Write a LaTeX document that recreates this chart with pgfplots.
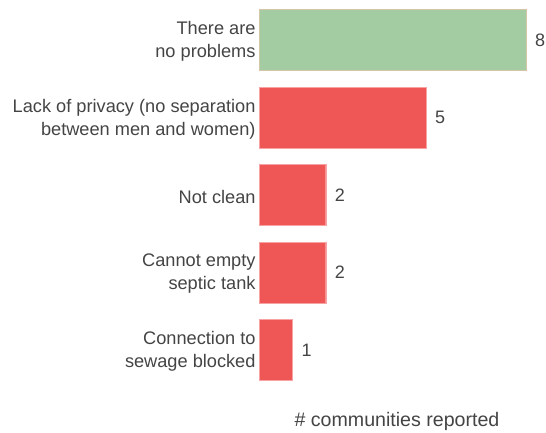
\documentclass[border=0pt]{standalone}
\usepackage{pgfplots}
\pgfplotsset{compat=1.18}
\usepackage{fontspec}
\setmainfont{Liberation Sans}
\definecolor{txt}{HTML}{444444}
\definecolor{gfill}{HTML}{A3CCA3}
\definecolor{gdraw}{HTML}{D6C6A8}
\definecolor{rfill}{HTML}{EF5656}
\definecolor{rdraw}{HTML}{F8A3A3}
\begin{document}
\begin{tikzpicture}[x=1pt,y=1pt]
\useasboundingbox (0,0) rectangle (546,433);
\begin{axis}[
  at={(259pt,44.25pt)}, anchor=south west,
  scale only axis, width=267pt, height=387.5pt,
  xmin=0, xmax=8, ymin=-0.5, ymax=4.5, y dir=reverse,
  axis line style={draw=none},
  xbar, bar width=61pt, bar shift=0pt,
  ytick={0,1,2,3,4},
  yticklabels={{There are\\no problems},{Lack of privacy (no separation\\between men and women)},{Not clean},{Cannot empty\\septic tank},{Connection to\\sewage blocked}},
  xtick=\empty,
  tick style={draw=none},
  yticklabel style={align=right, font=\fontsize{18.2}{23}\selectfont, text=txt, inner sep=0pt, xshift=1pt, yshift=-1.5pt},
  /pgf/number format/assume math mode=true,
  nodes near coords,
  nodes near coords style={anchor=west, font=\fontsize{18}{20}\selectfont, text=txt, xshift=9pt, inner sep=0pt},
  clip=false,
]
\addplot[fill=gfill, draw=gdraw] coordinates {(8,0)};
\addplot[fill=rfill, draw=rdraw] coordinates {(5,1) (2,2) (2,3) (1,4)};
\end{axis}
\node[text=txt, font=\fontsize{19.6}{22}\selectfont] at (397,12) {\# communities reported};
\end{tikzpicture}
\end{document}
